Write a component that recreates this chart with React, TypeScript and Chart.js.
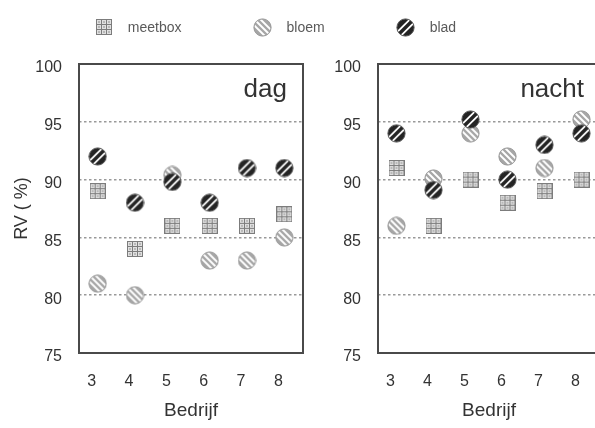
import React, { useEffect, useRef } from "react";
import { Chart, registerables } from "chart.js";

Chart.register(...registerables);

// ---- data ----
const bedrijven = [3, 4, 5, 6, 7, 8];
const seriesNames = ["meetbox", "bloem", "blad"];
const dagMeetbox = [89, 84, 86, 86, 86, 87];
const dagBloem = [81, 80, 90.4, 83, 83, 85];
const dagBlad = [92, 88, 89.8, 88, 91, 91];
const nachtMeetbox = [91, 86, 90, 88, 89, 90];
const nachtBloem = [86, 90.1, 94, 92, 91, 95.2];
const nachtBlad = [94, 89.1, 95.2, 90, 93, 94];
const yMin = 75;
const yMax = 100;
const yStep = 5;
const panelTitles = ["dag", "nacht"];
const xTitle = "Bedrijf";
const yTitle = "RV ( %)";

const FONT = '"Liberation Sans", Arial, sans-serif';
Chart.defaults.font.family = FONT;

// ---- marker images ----
function makeMeetbox(): HTMLCanvasElement {
  const s = 16;
  const c = document.createElement("canvas");
  c.width = s;
  c.height = s;
  const g = c.getContext("2d")!;
  g.fillStyle = "#7c7c7c";
  g.fillRect(0, 0, s, s);
  g.fillStyle = "#e0e0e0";
  for (let i = 0; i < 3; i++) {
    for (let j = 0; j < 3; j++) {
      g.fillRect(1 + i * 5, 1 + j * 5, 4, 4);
    }
  }
  g.fillStyle = "#b8b8b8";
  for (let i = 0; i < 3; i++) {
    for (let j = 0; j < 3; j++) {
      g.fillRect(2 + i * 5, 2 + j * 5, 2, 2);
    }
  }
  return c;
}

function stripedCircle(fill: string, edge: string, dir: 1 | -1, offsets: number[], width: number): HTMLCanvasElement {
  const s = 19;
  const c = document.createElement("canvas");
  c.width = s;
  c.height = s;
  const g = c.getContext("2d")!;
  const cx = s / 2;
  const cy = s / 2;
  const r = 8.6;
  g.beginPath();
  g.arc(cx, cy, r, 0, Math.PI * 2);
  g.fillStyle = fill;
  g.fill();
  g.save();
  g.clip();
  g.strokeStyle = "#ffffff";
  g.lineWidth = width;
  // stripe direction: dir=1 -> "/" ; dir=-1 -> "\"
  const ux = 1 / Math.SQRT2;
  const uy = (-dir) / Math.SQRT2;
  const px = -uy;
  const py = ux;
  offsets.forEach((o) => {
    g.beginPath();
    g.moveTo(cx + px * o - ux * 12, cy + py * o - uy * 12);
    g.lineTo(cx + px * o + ux * 12, cy + py * o + uy * 12);
    g.stroke();
  });
  g.restore();
  g.beginPath();
  g.arc(cx, cy, r, 0, Math.PI * 2);
  g.strokeStyle = edge;
  g.lineWidth = 1;
  g.stroke();
  return c;
}

// ---- plugins ----
const framePlugin = {
  id: "frame",
  afterDraw(chart: any) {
    const { ctx, chartArea: a } = chart;
    ctx.save();
    ctx.strokeStyle = "#4a4a4a";
    ctx.lineWidth = 2;
    ctx.strokeRect(a.left, a.top, a.right - a.left, a.bottom - a.top);
    ctx.restore();
  },
};

const panelLabelPlugin = {
  id: "panelLabel",
  afterDraw(chart: any, _args: any, opts: any) {
    const { ctx, chartArea: a } = chart;
    ctx.save();
    ctx.font = `26px ${FONT}`;
    ctx.fillStyle = "#333";
    ctx.textAlign = "right";
    ctx.textBaseline = "alphabetic";
    ctx.fillText(opts.text, a.right - 16, a.top + 33);
    ctx.restore();
  },
};

const topLegendPlugin = {
  id: "topLegend",
  afterDraw(chart: any, _args: any, opts: any) {
    if (!opts.display) return;
    const { ctx } = chart;
    const items = chart.data.datasets;
    ctx.save();
    ctx.font = `14px ${FONT}`;
    ctx.fillStyle = "#5a5a5a";
    ctx.textAlign = "left";
    ctx.textBaseline = "middle";
    const textGap = 24;
    const itemGap = 81;
    const half = 8;
    const widths = items.map((d: any) => ctx.measureText(d.label).width);
    let total = half;
    widths.forEach((w: number, i: number) => {
      total += textGap + w + (i < widths.length - 1 ? itemGap : 0);
    });
    let x = opts.centerX - total / 2 + half;
    items.forEach((d: any, i: number) => {
      const img = d.pointStyle as HTMLCanvasElement;
      ctx.drawImage(img, Math.round(x - img.width / 2), Math.round(opts.y - img.height / 2));
      ctx.fillText(d.label, x + textGap, opts.y + 1);
      x += textGap + widths[i] + itemGap;
    });
    ctx.restore();
  },
};

function makeDatasets(values: number[][], markers: HTMLCanvasElement[]) {
  return seriesNames.map((name, i) => ({
    label: name,
    data: bedrijven.map((b, j) => ({ x: b, y: values[i][j] })),
    pointStyle: markers[i],
    order: seriesNames.length - i,
    showLine: false,
  }));
}

function panelOptions(cfg: { title: string; yWidth: number; padRight: number; showYTitle: boolean; legend: boolean; spacer: number }) {
  const scales: any = {
    x: {
      type: "linear",
      min: bedrijven[0] - 0.5,
      max: bedrijven[bedrijven.length - 1] + 0.5,
      afterBuildTicks: (s: any) => {
        s.ticks = bedrijven.map((v) => ({ value: v }));
      },
      afterFit: (s: any) => {
        s.height = 75;
      },
      grid: { display: false },
      border: { display: false },
      ticks: { color: "#333", font: { size: 16 }, padding: 11, labelOffset: -6 },
      title: { display: true, text: xTitle, color: "#333", font: { size: 19 }, padding: { top: 0, bottom: 6 } },
    },
    y: {
      type: "linear",
      min: yMin,
      max: yMax,
      ticks: { stepSize: yStep, color: "#333", font: { size: 16 }, padding: 17, labelOffset: 4 },
      afterFit: (s: any) => {
        s.width = cfg.yWidth;
      },
      grid: { color: "#999", lineWidth: 1.5, drawTicks: false },
      border: { display: false, dash: [2.5, 2.5] },
      title: { display: cfg.showYTitle, text: yTitle, color: "#333", font: { size: 18 }, padding: { top: 11, bottom: 0 } },
    },
  };
  if (cfg.spacer > 0) {
    scales.spacer = {
      type: "linear",
      position: "right",
      display: true,
      grid: { display: false },
      border: { display: false },
      ticks: { display: false },
      afterFit: (s: any) => {
        s.width = cfg.spacer;
      },
    };
  }
  return {
    responsive: false,
    animation: false as const,
    events: [] as any[],
    layout: { padding: { top: 64, left: 0, right: cfg.padRight, bottom: 0 } },
    plugins: {
      legend: { display: false },
      tooltip: { enabled: false },
      panelLabel: { text: cfg.title },
      topLegend: { display: cfg.legend, centerX: 276, y: 27 },
    },
    scales,
  };
}

export default function App() {
  const leftRef = useRef<HTMLCanvasElement>(null);
  const rightRef = useRef<HTMLCanvasElement>(null);

  useEffect(() => {
    const markers = [
      makeMeetbox(),
      stripedCircle("#a6a6a6", "#959595", -1, [-4.3, 0, 4.3], 2),
      stripedCircle("#242424", "#555", 1, [-2.6, 2.6], 1.8),
    ];
    const plugins = [framePlugin, panelLabelPlugin, topLegendPlugin];
    const left = new Chart(leftRef.current!, {
      type: "scatter",
      data: { datasets: makeDatasets([dagMeetbox, dagBloem, dagBlad], markers) as any },
      options: panelOptions({ title: panelTitles[0], yWidth: 79, padRight: 0, showYTitle: true, legend: true, spacer: 307 }) as any,
      plugins,
    });
    const right = new Chart(rightRef.current!, {
      type: "scatter",
      data: { datasets: makeDatasets([nachtMeetbox, nachtBloem, nachtBlad], markers) as any },
      options: panelOptions({ title: panelTitles[1], yWidth: 78, padRight: 10, showYTitle: false, legend: false, spacer: 0 }) as any,
      plugins,
    });
    return () => {
      left.destroy();
      right.destroy();
    };
  }, []);

  return (
    <div style={{ position: "absolute", left: 0, top: 0, width: 595, height: 428, overflow: "hidden", background: "#fff" }}>
      <canvas ref={leftRef} width={610} height={428} style={{ position: "absolute", left: 0, top: 0 }} />
      <canvas ref={rightRef} width={310} height={428} style={{ position: "absolute", left: 300, top: 0 }} />
    </div>
  );
}
